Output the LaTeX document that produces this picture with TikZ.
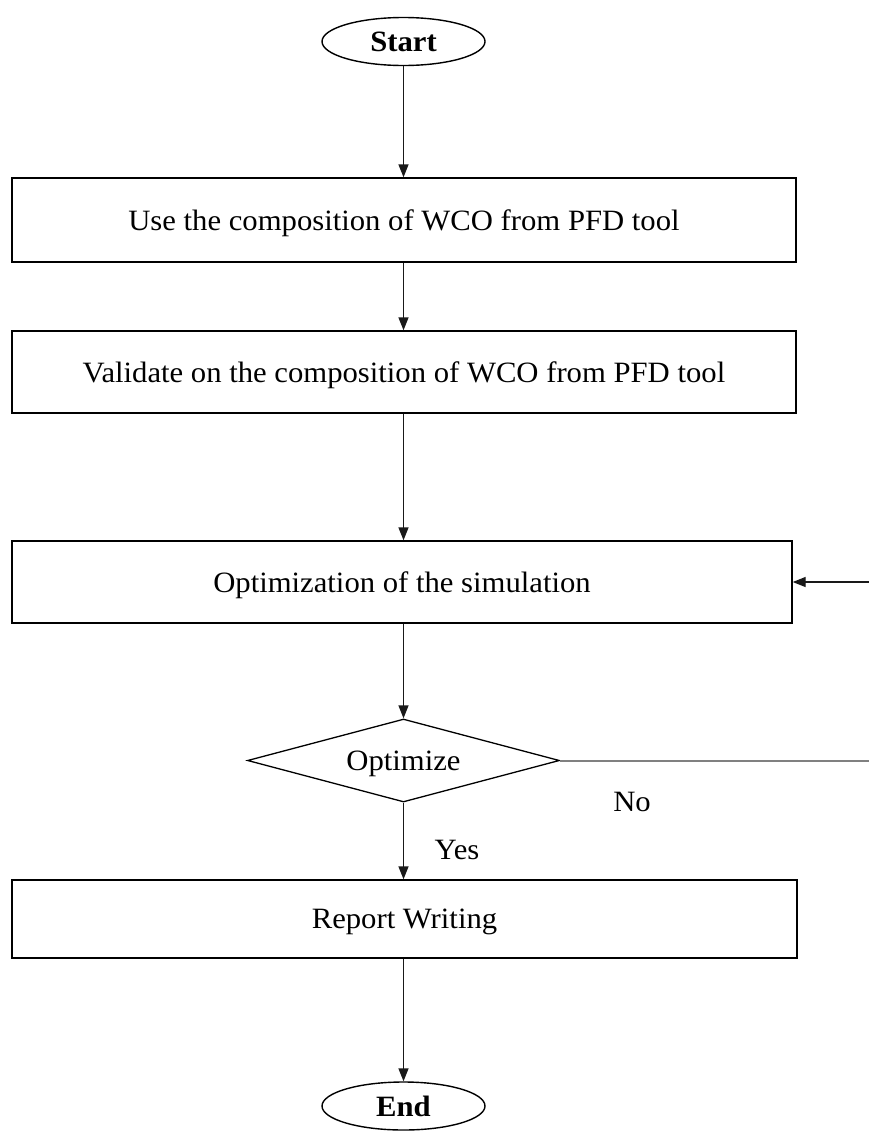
\documentclass[tikz,border=0pt]{standalone}
\usepackage{fontspec}
\setmainfont[FakeStretch=1.04]{Liberation Serif}
\usetikzlibrary{shapes.geometric,arrows.meta}
\begin{document}
\begin{tikzpicture}[x=1pt,y=-1pt,
  every node/.style={font=\fontsize{29.5}{34}\selectfont, inner sep=0pt},
  term/.style={draw, ellipse, line width=1.4pt, minimum width=163pt, minimum height=48pt, font=\fontsize{29.5}{34}\selectfont\bfseries},
  procbox/.style={draw, rectangle, line width=1.4pt, minimum height=84pt, text depth=0pt},
  decide/.style={draw, diamond, line width=1.3pt, minimum width=312pt, minimum height=83pt},
  flow/.style={line width=1.4pt, draw=black!90, -{Triangle[length=13pt,width=10pt]}},
  plain/.style={line width=2pt, draw=black!50},
  lbl/.style={font=\fontsize{29.5}{34}\selectfont}]
\useasboundingbox (0,0) rectangle (869,1133);
\node[term] (start) at (403.5,41.5) {Start};
\node[procbox, minimum width=784pt] (b1) at (404,220) {Use the composition of WCO from PFD tool};
\node[procbox, minimum width=784pt, minimum height=82pt] (b2) at (404,372) {Validate on the composition of WCO from PFD tool};
\node[procbox, minimum width=780pt, minimum height=82pt] (b3) at (402,582) {Optimization of the simulation};
\node[decide] (d) at (403.5,760.5) {};
\node (dt) at (403.5,764) {Optimize};
\node[procbox, minimum width=785pt, minimum height=78pt] (b4) at (404.5,919) {Report Writing};
\node[term] (end) at (403.5,1106) {End};
\node[lbl] (no) at (632,802) {No};
\node[lbl] (yes) at (457,850) {Yes};
\coordinate (r1) at (869,760.5);
\coordinate (r2) at (869,582);
\draw[flow] (start.south) -- (start.south |- b1.north);
\draw[flow] (b1.south -| start.south) -- (start.south |- b2.north);
\draw[flow] (b2.south -| start.south) -- (start.south |- b3.north);
\draw[flow] (b3.south -| start.south) -- (d.north);
\draw[flow] (d.south) -- (d.south |- b4.north);
\draw[flow] (b4.south -| end.north) -- (end.north);
\draw[plain] (d.east) -- (r1);
\draw[flow] (r2) -- (b3.east);
\end{tikzpicture}
\end{document}
